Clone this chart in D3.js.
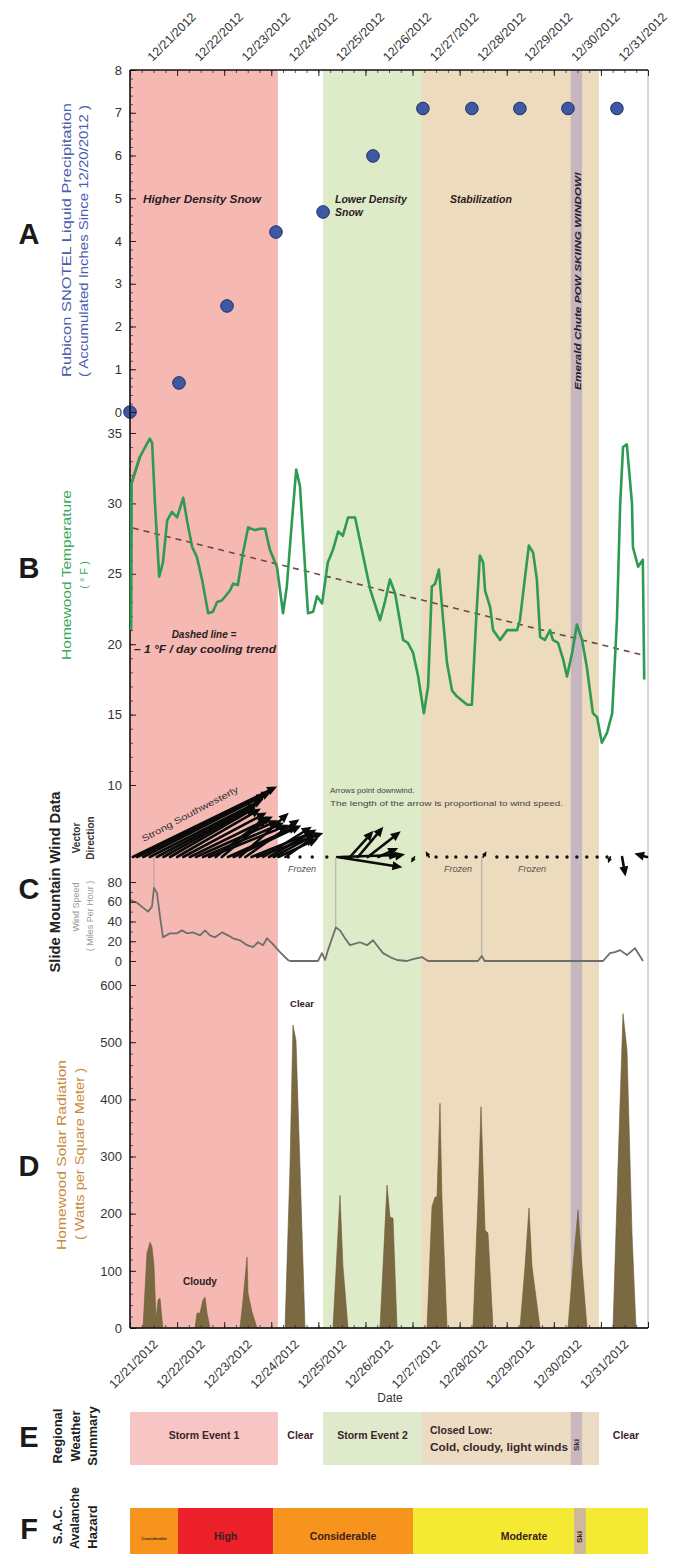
<!DOCTYPE html>
<html><head><meta charset="utf-8">
<script src="https://cdn.jsdelivr.net/npm/d3@7"></script>
<style>
body{margin:0;background:#fff}
svg{display:block}
text{font-family:"Liberation Sans",Arial,Helvetica,sans-serif}
</style>
</head><body>
<svg id="chart" width="699" height="1554"></svg>
<script>
// ---------------- DATA ----------------
// time unit: days since 12/21/2012 00:00 ; date tick labels sit at mid-day
const dateLabels = ["12/21/2012","12/22/2012","12/23/2012","12/24/2012","12/25/2012","12/26/2012","12/27/2012","12/28/2012","12/29/2012","12/30/2012","12/31/2012"];
const dateLabelDay = [0.5,1.5,2.5,3.5,4.5,5.5,6.5,7.5,8.5,9.5,10.5];

// Panel A: Rubicon SNOTEL accumulated liquid precipitation (inches)
const precipDay = [0, 1.04, 2.06, 3.1, 4.1, 5.16, 6.22, 7.26, 8.28, 9.3, 10.34];
const precipInches = [0, 0.68, 2.48, 4.21, 4.68, 5.99, 7.1, 7.1, 7.1, 7.1, 7.1];
const precipTicks = [0,1,2,3,4,5,6,7,8];

// Panel B: Homewood temperature (deg F)
const tempData = [[0.02,21.0],[0.03,31.4],[0.21,33.3],[0.42,34.6],[0.47,34.3],[0.53,30.0],[0.62,24.8],[0.70,25.8],[0.79,28.8],[0.89,29.4],[1.00,29.0],[1.13,30.4],[1.21,28.8],[1.32,26.9],[1.42,26.2],[1.53,24.6],[1.66,22.2],[1.76,22.3],[1.85,23.0],[1.95,23.1],[2.12,23.8],[2.19,24.3],[2.29,24.2],[2.40,26.5],[2.51,28.3],[2.65,28.1],[2.76,28.2],[2.87,28.2],[2.97,26.7],[3.12,25.5],[3.25,22.2],[3.33,24.1],[3.44,28.8],[3.53,32.4],[3.61,31.2],[3.72,25.3],[3.78,22.2],[3.89,22.3],[3.97,23.4],[4.08,22.9],[4.20,25.8],[4.31,26.7],[4.42,28.0],[4.52,27.7],[4.63,29.0],[4.78,29.0],[4.88,27.4],[5.10,23.9],[5.31,21.7],[5.42,23.1],[5.52,24.6],[5.63,23.6],[5.80,20.3],[5.90,20.1],[6.01,19.4],[6.12,17.7],[6.24,15.1],[6.33,17.0],[6.41,24.1],[6.48,24.3],[6.56,25.3],[6.65,21.7],[6.73,18.7],[6.84,16.7],[6.94,16.3],[7.16,15.7],[7.26,15.7],[7.35,21.7],[7.43,26.3],[7.50,25.8],[7.54,23.8],[7.65,22.6],[7.71,21.0],[7.86,20.3],[8.01,21.0],[8.22,21.0],[8.28,21.7],[8.39,24.8],[8.47,27.0],[8.56,26.5],[8.64,24.6],[8.71,20.5],[8.81,20.3],[8.92,21.0],[8.98,20.3],[9.09,20.1],[9.20,18.9],[9.28,17.7],[9.39,19.4],[9.49,21.4],[9.60,20.3],[9.70,18.4],[9.83,15.1],[9.92,14.8],[10.02,13.0],[10.13,13.7],[10.24,15.1],[10.34,21.7],[10.41,30.0],[10.47,34.0],[10.55,34.2],[10.66,30.0],[10.68,26.9],[10.79,25.5],[10.89,26.0],[10.92,17.5]];
const trendData = [[0.06,28.25],[10.92,19.2]];
const tempTicks = [10,15,20,25,30,35];

// Panel C: Slide Mountain wind speed (mph)
const windSpeedData = [[0,62],[0.149,59],[0.276,54],[0.382,50],[0.467,55],[0.51,74],[0.573,69],[0.637,45],[0.701,24],[0.849,28],[0.998,28],[1.104,31],[1.21,28],[1.338,29],[1.487,26],[1.593,31],[1.699,26],[1.805,24],[1.954,29],[2.081,26],[2.187,23],[2.336,21],[2.485,16],[2.612,14],[2.718,19],[2.824,16],[2.909,23],[3.015,18],[3.185,9],[3.355,1],[3.398,0],[3.992,0],[4.077,8],[4.141,1],[4.205,11],[4.37,34],[4.459,31],[4.566,23],[4.672,16],[4.884,19],[5.033,16],[5.16,21],[5.373,8],[5.521,4],[5.67,1],[5.882,0],[6.01,2],[6.201,4],[6.328,0],[7.39,0],[7.47,5],[7.53,0],[10.045,0],[10.193,8],[10.299,9],[10.406,11],[10.554,6],[10.724,13],[10.894,0]];
const windTicks = [0,20,40,60,80];
const windMarkerDay = [0.51, 4.37, 7.47];
// wind vectors: tail time, speed (arrow length), direction the arrow points (deg, counter-clockwise from east)
const windArrowDay   = [0.06,0.15,0.28,0.42,0.57,0.71,0.85,1.00,1.13,1.27,1.40,1.55,1.68,1.82,1.95,2.08,2.20,2.33,2.45,2.58,2.70,2.83,2.95,3.05,3.15,3.30, 4.40,4.46,4.67,4.84,5.05,5.27,5.52, 6.04,6.35,7.50,10.20,10.45,10.98];
const windArrowSpeed = [73,68,63,58,52,48,45,44,43,42,41,40,39,30,27,35,34,30,30,31,32,26,25,22,20,16, 30,27,16,18,19,10,7, 3,3,3,3,9,6];
const windArrowDir   = [26,26,27,27,28,29,30,30,28,26,24,23,22,38,40,24,25,42,35,22,20,32,30,28,25,35, -9,2,48,50,38,24,10, -120,120,60,-110,-80,165];
const windCalmDay = [3.36,3.61,3.87,4.18,6.50,6.73,6.92,7.14,7.35,7.79,8.01,8.22,8.43,8.64,8.86,9.07,9.28,9.49,9.70,9.92,10.13];

// Panel D: Homewood solar radiation (W/m2)
const radiationData = [[0,0],[0.276,0],[0.361,131],[0.425,150],[0.467,142],[0.51,107],[0.552,14],[0.595,49],[0.637,52],[0.68,14],[0.701,0],
 [1.38,0],[1.423,26],[1.487,26],[1.55,49],[1.593,54],[1.635,26],[1.699,0],
 [2.336,0],[2.40,49],[2.485,124],[2.506,61],[2.591,28],[2.697,0],
 [3.292,0],[3.398,282],[3.461,530],[3.525,503],[3.61,282],[3.716,0],
 [4.311,0],[4.417,166],[4.459,232],[4.523,107],[4.629,0],
 [5.309,0],[5.373,107],[5.458,250],[5.521,194],[5.585,192],[5.67,0],
 [6.307,0],[6.413,212],[6.477,229],[6.519,229],[6.583,393],[6.625,224],[6.732,0],
 [7.284,0],[7.39,224],[7.454,387],[7.539,171],[7.602,166],[7.709,0],
 [8.282,0],[8.388,107],[8.473,210],[8.537,107],[8.707,0],
 [9.301,0],[9.407,107],[9.514,206],[9.599,107],[9.705,0],
 [10.257,0],[10.363,282],[10.469,550],[10.554,486],[10.66,166],[10.745,0],[11,0]];
const radTicks = [0,100,200,300,400,500,600];

// Period shading (days)
const periodName  = ["storm1","storm2","closedLow","ski"];
const periodStart = [0, 4.10, 6.20, 9.36];
const periodEnd   = [3.14, 6.20, 9.96, 9.60];

// Panel E: regional weather summary
const weatherName  = ["storm1","storm2","closedLow","ski"];
const weatherStart = [0, 4.10, 6.20, 9.36];
const weatherEnd   = [3.14, 6.20, 9.96, 9.60];

// Panel F: SAC avalanche hazard
const hazardLevel = ["Considerable","High","Considerable","Moderate","Ski"];
const hazardStart = [0, 1.02, 3.04, 6.01, 9.43];
const hazardEnd   = [1.02, 3.04, 6.01, 11.0, 9.68];

// ---------------- DRAW ----------------
const svg = d3.select("#chart");
const X0 = 130, X1 = 648, TOP = 70, BOT = 1328;
const x = d3.scaleLinear().domain([0,11]).range([X0, X1]);
const yA = d3.scaleLinear().domain([0,8]).range([412,70]);
const yB = d3.scaleLinear().domain([10,35]).range([785,433]);
const yW = d3.scaleLinear().domain([0,80]).range([961,882]);
const yD = d3.scaleLinear().domain([0,600]).range([BOT,985]);
const WIND_BASE = 857, ARROW_SCALE = 2.2;

const bandColor = {storm1:"#f5b8b3", storm2:"#deebc9", closedLow:"#eddbbd", ski:"#c6b6c0"};
const eColor = {storm1:"#f6c5c4", storm2:"#dfeacc", closedLow:"#ecdcc3", ski:"#c9b9bf"};
const hazColor = {Considerable:"#f7941e", High:"#ec2129", Moderate:"#f4ea34", Ski:"#cdb99b"};

// background bands
svg.append("g").selectAll("rect").data(periodName).join("rect")
  .attr("x",(d,i)=>x(periodStart[i])).attr("width",(d,i)=>x(periodEnd[i])-x(periodStart[i]))
  .attr("y",TOP).attr("height",BOT-TOP).attr("fill",d=>bandColor[d]);

// right border
svg.append("line").attr("x1",X1).attr("x2",X1).attr("y1",TOP).attr("y2",BOT).attr("stroke","#b0b0b0").attr("stroke-width",1);

// ---- Panel A ----
svg.append("g").selectAll("circle").data(precipDay).join("circle")
  .attr("cx",d=>x(d)).attr("cy",(d,i)=>yA(precipInches[i])).attr("r",6.3)
  .attr("fill","#3f58a3").attr("stroke","#1e2d66").attr("stroke-width",1);

function txt(g, xx, yy, s, o={}) {
  const t = g.append("text").attr("x",xx).attr("y",yy).text(s)
    .attr("font-size",o.size||10).attr("fill",o.fill||"#222")
    .attr("text-anchor",o.anchor||"start");
  if (o.bold) t.attr("font-weight","bold");
  if (o.italic) t.attr("font-style","italic");
  if (o.len) t.attr("textLength",o.len).attr("lengthAdjust","spacingAndGlyphs");
  return t;
}
function rtxt(g, cx, cy, s, o={}) {
  const t = g.append("text").attr("transform",`translate(${cx},${cy}) rotate(${o.rot==null?-90:o.rot})`)
    .attr("text-anchor",o.anchor||"middle").attr("dominant-baseline","central").text(s)
    .attr("font-size",o.size||10).attr("fill",o.fill||"#222");
  if (o.bold) t.attr("font-weight","bold");
  if (o.italic) t.attr("font-style","italic");
  if (o.len) t.attr("textLength",o.len).attr("lengthAdjust","spacingAndGlyphs");
  return t;
}
const ann = svg.append("g");
txt(ann, 202, 203, "Higher Density Snow", {size:10.5, bold:true, italic:true, anchor:"middle", fill:"#2a2020", len:118});
txt(ann, 335, 203, "Lower Density", {size:10.5, bold:true, italic:true, fill:"#2a2020"});
txt(ann, 335, 216, "Snow", {size:10.5, bold:true, italic:true, fill:"#2a2020"});
txt(ann, 450, 203, "Stabilization", {size:10.5, bold:true, italic:true, fill:"#2a2020"});
rtxt(ann, 577, 281, "Emerald Chute POW SKIING WINDOW!", {size:9.5, bold:true, italic:true, fill:"#2a2020", len:218});

// ---- Panel B ----
svg.append("path").datum(trendData)
  .attr("d", d3.line().x(d=>x(d[0])).y(d=>yB(d[1])))
  .attr("stroke","#6a4a44").attr("stroke-width",1.6).attr("stroke-dasharray","6,5").attr("fill","none");
svg.append("path").datum(tempData)
  .attr("d", d3.line().x(d=>x(d[0])).y(d=>yB(d[1])))
  .attr("stroke","#2f9a52").attr("stroke-width",2.6).attr("fill","none").attr("stroke-linejoin","round");
txt(ann, 204, 638, "Dashed line =", {size:10, bold:true, italic:true, anchor:"middle", fill:"#2a2020"});
txt(ann, 205, 653, "\u2013 1 \u00b0F / day cooling trend", {size:10, bold:true, italic:true, anchor:"middle", fill:"#2a2020", len:142});

// ---- Panel C ----
const wg = svg.append("g");
const windInterp = t => {
  const i = d3.bisector(d=>d[0]).left(windSpeedData, t);
  if (i<=0) return windSpeedData[0][1];
  if (i>=windSpeedData.length) return windSpeedData[windSpeedData.length-1][1];
  const a = windSpeedData[i-1], b = windSpeedData[i];
  return a[1] + (b[1]-a[1])*(t-a[0])/(b[0]-a[0]);
};
wg.selectAll("line.mk").data(windMarkerDay).join("line").attr("class","mk")
  .attr("x1",d=>x(d)).attr("x2",d=>x(d)).attr("y1",WIND_BASE).attr("y2",d=>yW(windInterp(d)))
  .attr("stroke","#9a9a9a").attr("stroke-width",0.8);
wg.append("path").datum(windSpeedData)
  .attr("d", d3.line().x(d=>x(d[0])).y(d=>yW(d[1])))
  .attr("stroke","#6e6e6e").attr("stroke-width",1.8).attr("fill","none").attr("stroke-linejoin","round");
wg.selectAll("circle.calm").data(windCalmDay).join("circle").attr("class","calm")
  .attr("cx",d=>x(d)).attr("cy",WIND_BASE).attr("r",1.7).attr("fill","#111");
windArrowDay.forEach((t,i)=>{
  const L = windArrowSpeed[i]*ARROW_SCALE;
  const a = windArrowDir[i]*Math.PI/180;
  const ux = Math.cos(a), uy = -Math.sin(a);
  const x0 = x(t), y0 = WIND_BASE;
  const hx = x0 + ux*L, hy = y0 + uy*L;
  const hl = Math.min(10, L*0.75), hw = Math.min(4.5, L*0.35);
  const bx = hx - ux*hl, by = hy - uy*hl;
  wg.append("line").attr("x1",x0).attr("y1",y0).attr("x2",bx).attr("y2",by)
    .attr("stroke","#0a0a0a").attr("stroke-width", L>12?2.6:1.8).attr("stroke-linecap","round");
  const px = -uy, py = ux;
  wg.append("path").attr("d",`M${hx},${hy}L${bx+px*hw},${by+py*hw}L${bx-px*hw},${by-py*hw}Z`).attr("fill","#0a0a0a");
});
rtxt(ann, 190, 814, "Strong Southwesterly", {size:9, fill:"#333", rot:-28, len:108});
txt(ann, 330, 793, "Arrows point downwind.", {size:8, fill:"#444"});
txt(ann, 330, 806, "The length of the arrow is proportional to wind speed.", {size:8, fill:"#444", len:233});
txt(ann, 302, 872, "Frozen", {size:9, italic:true, fill:"#555", anchor:"middle"});
txt(ann, 458, 872, "Frozen", {size:9, italic:true, fill:"#555", anchor:"middle"});
txt(ann, 532, 872, "Frozen", {size:9, italic:true, fill:"#555", anchor:"middle"});

// ---- Panel D ----
svg.append("path").datum(radiationData)
  .attr("d", d3.area().x(d=>x(d[0])).y0(yD(0)).y1(d=>yD(d[1])))
  .attr("fill","#7b6942").attr("stroke","#6b5a36").attr("stroke-width",0.6);
txt(ann, 302, 1007, "Clear", {size:9.5, bold:true, anchor:"middle", fill:"#2a2020"});
txt(ann, 200, 1285, "Cloudy", {size:10, bold:true, anchor:"middle", fill:"#2a2020"});

// ---- Axes ----
const axG = svg.append("g");
function leftAxis(scale, ticks, minorStep) {
  const dom = scale.domain();
  const minor = d3.range(dom[0], dom[1]+1e-9, minorStep);
  axG.append("g").attr("transform",`translate(${X0},0)`)
    .call(d3.axisLeft(scale).tickValues(minor).tickSize(-3).tickFormat(""))
    .call(g=>g.select(".domain").remove())
    .call(g=>g.selectAll("line").attr("stroke","#333").attr("stroke-width",0.8));
  axG.append("g").attr("transform",`translate(${X0},0)`)
    .call(d3.axisLeft(scale).tickValues(ticks).tickSize(-6).tickPadding(8).tickFormat(d3.format("d")))
    .call(g=>g.select(".domain").remove())
    .call(g=>g.selectAll("line").attr("stroke","#222").attr("stroke-width",1))
    .call(g=>g.selectAll("text").attr("font-size",13).attr("fill","#333")
      .attr("font-family",'"Liberation Sans",Arial,sans-serif'));
}
leftAxis(yA, precipTicks, 0.2);
leftAxis(yB, tempTicks, 1);
leftAxis(yW, windTicks, 10);
leftAxis(yD, radTicks, 20);

const minorDays = d3.range(0, 11.001, 0.25);
const majorDays = d3.range(0, 11.001, 1);
[[TOP, d3.axisTop],[BOT, d3.axisBottom]].forEach(([yy, fn])=>{
  axG.append("g").attr("transform",`translate(0,${yy})`)
    .call(fn(x).tickValues(minorDays).tickSize(-3).tickFormat(""))
    .call(g=>g.select(".domain").remove())
    .call(g=>g.selectAll("line").attr("stroke","#333").attr("stroke-width",0.8));
  axG.append("g").attr("transform",`translate(0,${yy})`)
    .call(fn(x).tickValues(majorDays).tickSize(-6).tickFormat(""))
    .call(g=>g.select(".domain").remove())
    .call(g=>g.selectAll("line").attr("stroke","#222").attr("stroke-width",1));
});
axG.append("line").attr("x1",X0).attr("x2",X1).attr("y1",TOP).attr("y2",TOP).attr("stroke","#111").attr("stroke-width",1.6);
axG.append("line").attr("x1",X0).attr("x2",X1).attr("y1",BOT).attr("y2",BOT).attr("stroke","#111").attr("stroke-width",1.6);
axG.append("line").attr("x1",X0).attr("x2",X0).attr("y1",TOP).attr("y2",BOT).attr("stroke","#111").attr("stroke-width",1.6);
svg.append("path").datum(tempData.slice(0,3))
  .attr("d", d3.line().x(d=>x(d[0])).y(d=>yB(d[1])))
  .attr("stroke","#2f9a52").attr("stroke-width",2.6).attr("fill","none");

// date labels
const dl = svg.append("g");
dl.selectAll("text.top").data(dateLabels).join("text").attr("class","top")
  .attr("transform",(d,i)=>`translate(${x(dateLabelDay[i])-1},62) rotate(-45)`)
  .attr("font-size",12.5).attr("fill","#333").text(d=>d);
dl.selectAll("text.bot").data(dateLabels).join("text").attr("class","bot")
  .attr("transform",(d,i)=>`translate(${x(dateLabelDay[i])+5},1345) rotate(-45)`)
  .attr("text-anchor","end").attr("font-size",12.5).attr("fill","#333").text(d=>d);
txt(dl, 390, 1402, "Date", {size:12, anchor:"middle", fill:"#333"});

// ---- Left titles ----
const lt = svg.append("g");
rtxt(lt, 66, 240, "Rubicon SNOTEL Liquid Precipitation", {size:13, fill:"#4a5cae", len:274});
rtxt(lt, 84, 241, "( Accumulated Inches Since 12/20/2012 )", {size:12, fill:"#4a5cae", len:272});
rtxt(lt, 66, 575, "Homewood Temperature", {size:13, fill:"#38a85a", len:170});
rtxt(lt, 84, 575, "( \u00b0 F )", {size:11, fill:"#38a85a"});
rtxt(lt, 55, 882, "Slide Mountain Wind Data", {size:14, bold:true, fill:"#222", len:181});
rtxt(lt, 76, 838, "Vector", {size:10, bold:true, fill:"#333"});
rtxt(lt, 90, 838, "Direction", {size:10, bold:true, fill:"#333"});
rtxt(lt, 76, 907, "Wind Speed", {size:9, fill:"#9a9a9a"});
rtxt(lt, 90, 916, "( Miles Per Hour )", {size:9, fill:"#9a9a9a"});
rtxt(lt, 61, 1155, "Homewood Solar Radiation", {size:13, fill:"#c98a3c", len:190});
rtxt(lt, 80, 1154, "( Watts per Square Meter )", {size:12, fill:"#c98a3c", len:172});
rtxt(lt, 57, 1436, "Regional", {size:13, bold:true, fill:"#222"});
rtxt(lt, 75, 1436, "Weather", {size:13, bold:true, fill:"#222"});
rtxt(lt, 92, 1436, "Summary", {size:13, bold:true, fill:"#222"});
rtxt(lt, 57, 1525, "S.A.C.", {size:13, bold:true, fill:"#222"});
rtxt(lt, 75, 1518, "Avalanche", {size:12.5, bold:true, fill:"#222"});
rtxt(lt, 92, 1527, "Hazard", {size:13, bold:true, fill:"#222"});
[["A",234],["B",568],["C",889],["D",1166],["E",1437],["F",1529]].forEach(([s,yy])=>{
  svg.append("text").attr("x",29).attr("y",yy).attr("text-anchor","middle").attr("dominant-baseline","central")
    .attr("font-size",29).attr("font-weight","bold").attr("fill","#1a1a1a").text(s);
});

// ---- Panel E ----
const eg = svg.append("g");
eg.selectAll("rect").data(weatherName).join("rect")
  .attr("x",(d,i)=>x(weatherStart[i])).attr("width",(d,i)=>x(weatherEnd[i])-x(weatherStart[i]))
  .attr("y",1412).attr("height",53).attr("fill",d=>eColor[d]);
txt(eg, x((weatherStart[0]+weatherEnd[0])/2), 1439, "Storm Event 1", {size:10.5, bold:true, anchor:"middle", fill:"#3a2626"});
txt(eg, x((weatherEnd[0]+weatherStart[1])/2), 1439, "Clear", {size:10.5, bold:true, anchor:"middle", fill:"#3a2626"});
txt(eg, x((weatherStart[1]+weatherEnd[1])/2), 1439, "Storm Event 2", {size:10.5, bold:true, anchor:"middle", fill:"#3a2626"});
txt(eg, 430, 1434, "Closed Low:", {size:10.5, bold:true, fill:"#3a2626"});
txt(eg, 430, 1451, "Cold, cloudy, light winds", {size:10.5, bold:true, fill:"#3a2626", len:138});
rtxt(eg, x((weatherStart[3]+weatherEnd[3])/2), 1445, "Ski", {size:8, bold:true, fill:"#3a2626"});
txt(eg, 626, 1439, "Clear", {size:10.5, bold:true, anchor:"middle", fill:"#3a2626"});

// ---- Panel F ----
const fg = svg.append("g");
fg.selectAll("rect").data(hazardLevel).join("rect")
  .attr("x",(d,i)=>x(hazardStart[i])).attr("width",(d,i)=>x(hazardEnd[i])-x(hazardStart[i]))
  .attr("y",1508).attr("height",60).attr("fill",d=>hazColor[d]);
const hzText = [["Considerable",0,4],["High",1,10.5],["Considerable",2,10.5]];
hzText.forEach(([s,i,sz])=>txt(fg, x((hazardStart[i]+hazardEnd[i])/2), 1540, s, {size:sz, bold:true, anchor:"middle", fill:"#3a2020"}));
txt(fg, 524, 1540, "Moderate", {size:10.5, bold:true, anchor:"middle", fill:"#3a2020"});
rtxt(fg, x((hazardStart[4]+hazardEnd[4])/2), 1537, "Ski", {size:8, bold:true, fill:"#3a2020"});
</script>
</body></html>
